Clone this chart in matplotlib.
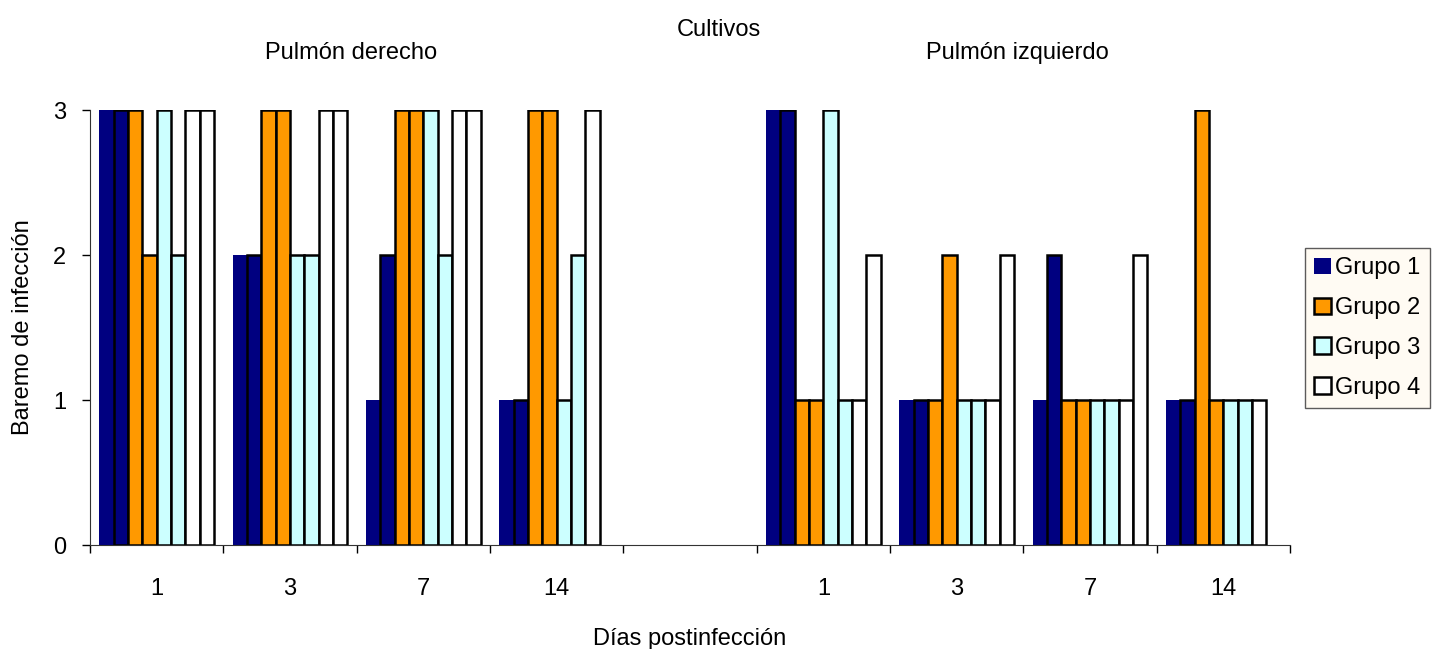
import numpy as np
import matplotlib.pyplot as plt
from matplotlib.patches import Patch

plt.rcParams['font.family'] = ['Liberation Sans', 'DejaVu Sans']

# x categories: days for right lung, an empty slot, days for left lung
dias = ['1', '3', '7', '14', '', '1', '3', '7', '14']

# two bars per group for every day (a, b); empty slot = 0
g1a = [3, 2, 1, 1, 0, 3, 1, 1, 1]
g1b = [3, 2, 2, 1, 0, 3, 1, 2, 1]
g2a = [3, 3, 3, 3, 0, 1, 1, 1, 3]
g2b = [2, 3, 3, 3, 0, 1, 2, 1, 1]
g3a = [3, 2, 3, 1, 0, 3, 1, 1, 1]
g3b = [2, 2, 2, 2, 0, 1, 1, 1, 1]
g4a = [3, 3, 3, 3, 0, 1, 1, 1, 1]
g4b = [3, 3, 3, 0, 0, 2, 2, 2, 0]

series = [g1a, g1b, g2a, g2b, g3a, g3b, g4a, g4b]
colores = ['#000080', '#000080', '#FF9900', '#FF9900',
           '#CCFFFF', '#CCFFFF', '#FFFFFF', '#FFFFFF']
grupos = ['Grupo 1', 'Grupo 2', 'Grupo 3', 'Grupo 4']

FS = 17
LW = 1.8

fig = plt.figure(figsize=(14.37, 6.49), dpi=100)
ax = fig.add_axes([0.0626, 0.1602, 0.8351, 0.6703])

x = np.arange(len(dias))
w = 0.86 / 8
for i, (vals, c) in enumerate(zip(series, colores)):
    vals = np.array(vals, dtype=float)
    pos = x - 0.43 + w * (i + 0.5)
    keep = vals > 0
    if i == 0:
        ax.bar(pos[keep], vals[keep], width=w, color=c, edgecolor='none',
               zorder=2)
    else:
        ax.bar(pos[keep], vals[keep], width=w, color=c, edgecolor='black',
               linewidth=LW, zorder=2)

ax.set_xlim(-0.5, len(dias) - 0.5)
ax.set_ylim(0, 3)
ax.set_yticks([0, 1, 2, 3])
ax.tick_params(axis='y', labelsize=FS, length=6, width=1, pad=11)

# category labels between the boundary ticks
ax.set_xticks(np.arange(len(dias) + 1) - 0.5)
ax.set_xticklabels([])
ax.set_xticks(x, minor=True)
ax.set_xticklabels(dias, minor=True, fontsize=FS)
ax.tick_params(axis='x', which='major', length=6, width=1)
ax.tick_params(axis='x', which='minor', length=0, pad=24)

for s in ['top', 'right']:
    ax.spines[s].set_visible(False)
for s in ['left', 'bottom']:
    ax.spines[s].set_color('#333333')

ax.set_ylabel('Baremo de infección', fontsize=FS, labelpad=14)
ax.set_xlabel('Días postinfección', fontsize=FS, labelpad=20)

fig.text(0.5, 0.954, 'Cultivos', ha='center', va='center', fontsize=FS)
fig.text(0.244, 0.918, 'Pulmón derecho', ha='center', va='center', fontsize=FS)
fig.text(0.708, 0.918, 'Pulmón izquierdo', ha='center', va='center', fontsize=FS)

handles = [Patch(facecolor='#000080', edgecolor='none'),
           Patch(facecolor='#FF9900', edgecolor='black', linewidth=LW),
           Patch(facecolor='#CCFFFF', edgecolor='black', linewidth=LW),
           Patch(facecolor='#FFFFFF', edgecolor='black', linewidth=LW)]
leg = fig.legend(handles, grupos, loc='center left',
                 bbox_to_anchor=(0.908, 0.4946), fontsize=FS,
                 handlelength=0.7, handleheight=0.7, handletextpad=0.2,
                 borderpad=0.4, labelspacing=0.75, borderaxespad=0,
                 fancybox=False, frameon=True)
leg.get_frame().set_facecolor('#FFFAF0')
leg.get_frame().set_edgecolor('#333333')
leg.get_frame().set_linewidth(1)

fig.savefig('out.png', dpi=100)
